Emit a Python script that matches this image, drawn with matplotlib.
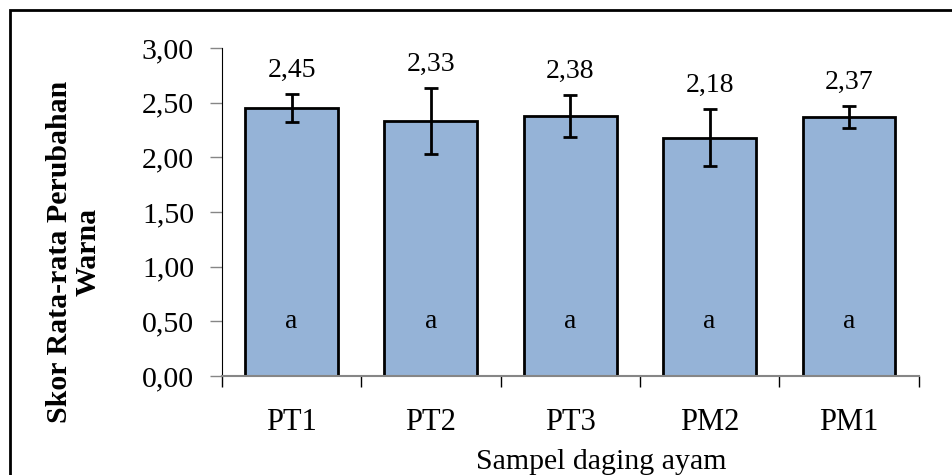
import numpy as np
import matplotlib.pyplot as plt
from matplotlib.patches import Rectangle

# data
samples = ['PT1', 'PT2', 'PT3', 'PM2', 'PM1']
scores = [2.45, 2.33, 2.38, 2.18, 2.37]
errors = [0.13, 0.30, 0.19, 0.26, 0.10]
letters = ['a', 'a', 'a', 'a', 'a']
yticks = [0.0, 0.5, 1.0, 1.5, 2.0, 2.5, 3.0]

plt.rcParams['font.family'] = ['Liberation Serif', 'DejaVu Serif']

fig = plt.figure(figsize=(9.52, 4.75), dpi=100)
ax = fig.add_axes([0.233, 0.2084, 0.732, 0.6906])

x = np.arange(len(samples))
ax.bar(x, scores, width=0.667, color='#95B3D7', edgecolor='black', linewidth=2, zorder=2)
ax.errorbar(x, scores, yerr=errors, fmt='none', ecolor='black', elinewidth=2,
            capsize=5, capthick=2, zorder=3)

for xi, s, e in zip(x, scores, errors):
    ax.annotate(f'{s:.2f}'.replace('.', ','), (xi, s + e), xytext=(0, 8),
                textcoords='offset points', ha='center', va='bottom', fontsize=20)
for xi, l in zip(x, letters):
    ax.text(xi, 0.5, l, ha='center', va='center', fontsize=20)

ax.set_xlim(-0.5, len(samples) - 0.5)
ax.set_ylim(0, 3)
ax.set_yticks(yticks)
ax.set_yticklabels([f'{t:.2f}'.replace('.', ',') for t in yticks], fontsize=21.5)
ax.set_xticks(x)
ax.set_xticklabels(samples, fontsize=22)
ax.tick_params(axis='x', length=0, pad=23)
ax.set_xticks(np.arange(len(samples) + 1) - 0.5, minor=True)
ax.tick_params(axis='x', which='minor', length=8, width=1, color='black')
ax.tick_params(axis='y', length=9, width=1, color='#868686', pad=11)

for side in ['top', 'right']:
    ax.spines[side].set_visible(False)
ax.spines['left'].set_color('black')
ax.spines['bottom'].set_color('#868686')
ax.spines['bottom'].set_linewidth(1.5)

ax.set_xlabel('Sampel daging ayam', fontsize=21.5, labelpad=9, x=0.545)
ax.set_ylabel('Skor Rata-rata Perubahan\nWarna', fontsize=21.5, fontweight='bold',
              linespacing=1.1)
ax.yaxis.set_label_coords(-0.172, 0.378)

# outer frame of the original figure
fig.patches.append(Rectangle((10 / 952, -0.2), 1.2, 1.2 - 10 / 475,
                             transform=fig.transFigure, fill=False,
                             edgecolor='black', linewidth=2))

fig.savefig('out.png', dpi=100)
